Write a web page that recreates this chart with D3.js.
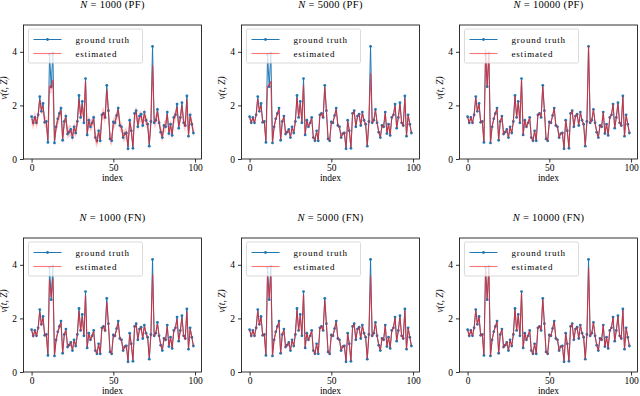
<!DOCTYPE html>
<html>
<head>
    <meta charset="utf-8">
    <title>Ground truth vs estimated</title>
    <style>
        body { margin: 0; background: white; }
        text { font-family: "Liberation Serif", "DejaVu Serif", serif; fill: black; }
    </style>
    <script src="https://d3js.org/d3.v7.min.js"></script>
</head>
<body>
<div id="chart"></div>
<script>
    // panel order: top row PF, bottom row FN
    var particles = ["1000", "5000", "10000", "1000", "5000", "10000"];
    var methods = ["PF", "PF", "PF", "FN", "FN", "FN"];
    var xTicks = [0, 50, 100];
    var yTicks = [0, 2, 4];

    var groundTruth = [
        1.58, 1.35, 1.55, 1.35, 1.65, 2.33, 1.78, 2.07, 1.37, 1.40,
        0.62, 3.90, 2.70, 3.95, 0.60, 1.20, 1.50, 1.70, 1.90, 0.70,
        1.40, 1.60, 0.93, 1.00, 1.10, 0.80, 1.20, 0.97, 1.40, 2.37,
        1.55, 2.15, 1.35, 3.00, 0.90, 1.45, 1.20, 1.35, 1.55, 0.80,
        0.68, 1.05, 0.68, 1.65, 1.70, 1.55, 2.75, 1.80, 0.75, 0.68,
        1.38, 1.35, 1.62, 1.90, 1.25, 1.20, 0.80, 0.95, 0.97, 0.38,
        1.45, 1.05, 0.40, 1.70, 1.80, 1.20, 1.60, 1.67, 1.25, 1.75,
        1.45, 1.30, 0.48, 1.40, 4.20, 1.35, 1.45, 1.85, 1.35, 1.00,
        0.80, 1.25, 1.20, 1.75, 0.95, 1.30, 0.88, 1.55, 1.65, 2.05,
        1.15, 1.55, 2.10, 1.35, 1.25, 2.35, 0.85, 1.65, 1.30, 0.97
    ];

    var estPF1000 = [
        1.50, 1.30, 1.58, 1.30, 1.62, 2.20, 1.85, 1.95, 1.42, 1.35,
        0.70, 2.70, 2.65, 2.95, 0.68, 1.15, 1.45, 1.62, 1.82, 0.75,
        1.35, 1.55, 0.95, 1.05, 1.05, 0.85, 1.15, 1.02, 1.32, 2.25,
        1.60, 2.05, 1.40, 2.90, 0.95, 1.40, 1.25, 1.30, 1.50, 0.78,
        0.62, 1.00, 0.72, 1.60, 1.72, 1.50, 2.60, 1.75, 0.80, 0.70,
        1.32, 1.40, 1.55, 1.85, 1.28, 1.15, 0.85, 0.90, 1.00, 0.45,
        1.40, 1.10, 0.45, 1.62, 1.75, 1.25, 1.55, 1.60, 1.30, 1.70,
        1.40, 1.32, 0.55, 1.35, 3.50, 1.40, 1.40, 1.78, 1.38, 1.05,
        0.82, 1.20, 1.25, 1.68, 0.98, 1.25, 0.92, 1.50, 1.60, 1.95,
        1.20, 1.50, 2.00, 1.40, 1.20, 2.25, 0.90, 1.60, 1.35, 1.00
    ];
    var estPF5000 = [
        1.55, 1.37, 1.52, 1.38, 1.63, 2.25, 1.80, 2.00, 1.40, 1.38,
        0.66, 2.70, 2.75, 2.90, 0.64, 1.18, 1.48, 1.68, 1.86, 0.72,
        1.38, 1.58, 0.95, 1.02, 1.08, 0.82, 1.18, 0.99, 1.38, 2.30,
        1.57, 2.10, 1.37, 2.75, 0.92, 1.43, 1.22, 1.33, 1.52, 0.82,
        0.70, 1.03, 0.70, 1.63, 1.68, 1.53, 2.70, 1.78, 0.77, 0.70,
        1.36, 1.37, 1.60, 1.87, 1.26, 1.18, 0.82, 0.94, 0.98, 0.40,
        1.43, 1.06, 0.42, 1.68, 1.78, 1.22, 1.58, 1.65, 1.27, 1.72,
        1.43, 1.31, 0.50, 1.40, 3.20, 1.37, 1.44, 1.82, 1.36, 1.02,
        0.82, 1.24, 1.21, 1.72, 0.97, 1.29, 0.90, 1.53, 1.63, 2.00,
        1.17, 1.53, 2.05, 1.36, 1.25, 2.28, 0.87, 1.63, 1.31, 0.98
    ];
    var estPF10000 = [
        1.57, 1.36, 1.54, 1.36, 1.64, 2.30, 1.79, 2.05, 1.38, 1.40,
        0.64, 4.10, 2.72, 4.00, 0.62, 1.20, 1.50, 1.70, 1.88, 0.71,
        1.40, 1.59, 0.94, 1.00, 1.09, 0.81, 1.19, 0.97, 1.40, 2.35,
        1.55, 2.13, 1.36, 2.95, 0.91, 1.45, 1.20, 1.35, 1.54, 0.80,
        0.69, 1.04, 0.69, 1.65, 1.70, 1.55, 2.72, 1.79, 0.76, 0.69,
        1.38, 1.36, 1.61, 1.89, 1.25, 1.20, 0.81, 0.95, 0.97, 0.39,
        1.45, 1.05, 0.41, 1.70, 1.79, 1.21, 1.60, 1.66, 1.26, 1.74,
        1.45, 1.30, 0.49, 1.42, 4.22, 1.36, 1.45, 1.84, 1.35, 1.01,
        0.81, 1.25, 1.20, 1.74, 0.96, 1.30, 0.89, 1.55, 1.64, 2.04,
        1.16, 1.55, 2.08, 1.35, 1.26, 2.33, 0.86, 1.64, 1.30, 0.97
    ];
    var estFN1000 = [
        1.55, 1.33, 1.53, 1.37, 1.62, 2.25, 1.75, 2.02, 1.38, 1.38,
        0.66, 3.45, 2.80, 3.50, 0.64, 1.18, 1.47, 1.67, 1.85, 0.73,
        1.37, 1.57, 0.95, 1.02, 1.08, 0.83, 1.17, 0.99, 1.37, 2.28,
        1.53, 2.08, 1.36, 2.85, 0.93, 1.42, 1.22, 1.33, 1.52, 0.82,
        0.70, 1.03, 0.70, 1.62, 1.68, 1.52, 2.62, 1.76, 0.78, 0.70,
        1.36, 1.35, 1.58, 1.85, 1.26, 1.18, 0.83, 0.94, 0.97, 0.42,
        1.42, 1.06, 0.44, 1.66, 1.76, 1.22, 1.57, 1.64, 1.27, 1.71,
        1.43, 1.31, 0.52, 1.39, 3.65, 1.36, 1.44, 1.80, 1.36, 1.02,
        0.83, 1.24, 1.21, 1.71, 0.97, 1.28, 0.90, 1.52, 1.62, 1.98,
        1.17, 1.52, 2.03, 1.36, 1.25, 2.27, 0.88, 1.62, 1.31, 0.98
    ];
    var estFN5000 = [
        1.56, 1.34, 1.54, 1.36, 1.63, 2.28, 1.77, 2.04, 1.37, 1.39,
        0.64, 3.60, 2.75, 3.65, 0.62, 1.19, 1.49, 1.68, 1.87, 0.71,
        1.39, 1.58, 0.94, 1.01, 1.09, 0.82, 1.18, 0.98, 1.39, 2.32,
        1.54, 2.12, 1.35, 2.90, 0.92, 1.44, 1.21, 1.34, 1.53, 0.81,
        0.69, 1.04, 0.69, 1.64, 1.69, 1.54, 2.68, 1.78, 0.77, 0.69,
        1.37, 1.35, 1.60, 1.88, 1.25, 1.19, 0.82, 0.95, 0.97, 0.40,
        1.44, 1.05, 0.42, 1.68, 1.78, 1.21, 1.59, 1.66, 1.26, 1.73,
        1.44, 1.30, 0.50, 1.40, 3.60, 1.35, 1.45, 1.83, 1.35, 1.01,
        0.82, 1.25, 1.20, 1.73, 0.96, 1.29, 0.89, 1.54, 1.64, 2.02,
        1.16, 1.54, 2.06, 1.35, 1.25, 2.30, 0.86, 1.64, 1.30, 0.97
    ];
    var estFN10000 = [
        1.57, 1.35, 1.55, 1.35, 1.64, 2.30, 1.78, 2.06, 1.37, 1.40,
        0.63, 3.80, 2.72, 3.85, 0.61, 1.20, 1.50, 1.69, 1.89, 0.70,
        1.40, 1.60, 0.93, 1.00, 1.10, 0.81, 1.20, 0.97, 1.40, 2.34,
        1.55, 2.14, 1.35, 2.95, 0.91, 1.45, 1.20, 1.35, 1.54, 0.80,
        0.68, 1.05, 0.68, 1.65, 1.70, 1.55, 2.72, 1.79, 0.76, 0.68,
        1.38, 1.35, 1.61, 1.89, 1.25, 1.20, 0.81, 0.95, 0.97, 0.39,
        1.45, 1.05, 0.41, 1.70, 1.79, 1.20, 1.60, 1.67, 1.25, 1.74,
        1.45, 1.30, 0.49, 1.40, 3.90, 1.35, 1.45, 1.84, 1.35, 1.00,
        0.80, 1.25, 1.20, 1.75, 0.95, 1.30, 0.88, 1.55, 1.65, 2.04,
        1.15, 1.55, 2.09, 1.35, 1.25, 2.33, 0.85, 1.65, 1.30, 0.97
    ];
    var estimates = [estPF1000, estPF5000, estPF10000, estFN1000, estFN5000, estFN10000];
    // half width of the shaded band around each estimate
    var spreads = [0.22, 0.07, 0.05, 0.09, 0.06, 0.05];

    var W = 640, H = 396;
    var panelW = 178, panelH = 134;
    var lefts = [23.5, 241.5, 459.5];
    var tops = [25, 238];

    var svg = d3.select("#chart").append("svg")
        .attr("width", W)
        .attr("height", H);

    var x = d3.scaleLinear().domain([-4.95, 103.95]).range([0, panelW]);
    var y = d3.scaleLinear().domain([0, 5]).range([panelH, 0]);

    var blue = "#1f77b4";
    var red = "#ff1a1a";

    for (var p = 0; p < 6; p++) {
        drawPanel(p);
    }

    function drawPanel(p) {
        var est = estimates[p];
        var s = spreads[p];
        var g = svg.append("g")
            .attr("transform", "translate(" + lefts[p % 3] + "," + tops[Math.floor(p / 3)] + ")");

        var truthPts = groundTruth.map(function (v, i) { return { i: i, v: v }; });
        var estPts = est.map(function (v, i) { return { i: i, v: v }; });

        // shaded band
        g.append("path")
            .datum(estPts)
            .attr("fill", red)
            .attr("fill-opacity", 0.22)
            .attr("d", d3.area()
                .x(function (d) { return x(d.i); })
                .y0(function (d) { return y(d.v - s); })
                .y1(function (d) { return y(d.v + s); }));

        // ground truth line + dots
        g.append("path")
            .datum(truthPts)
            .attr("fill", "none")
            .attr("stroke", blue)
            .attr("stroke-width", 1)
            .attr("d", d3.line()
                .x(function (d) { return x(d.i); })
                .y(function (d) { return y(d.v); }));

        g.selectAll(".dot")
            .data(truthPts)
            .enter().append("circle")
            .attr("cx", function (d) { return x(d.i); })
            .attr("cy", function (d) { return y(d.v); })
            .attr("r", 1.4)
            .attr("fill", blue);

        // estimate line
        g.append("path")
            .datum(estPts)
            .attr("fill", "none")
            .attr("stroke", red)
            .attr("stroke-opacity", 0.7)
            .attr("stroke-width", 1.1)
            .attr("d", d3.line()
                .x(function (d) { return x(d.i); })
                .y(function (d) { return y(d.v); }));

        // axes
        var xAxis = g.append("g")
            .attr("transform", "translate(0," + panelH + ")")
            .call(d3.axisBottom(x).tickValues(xTicks).tickFormat(d3.format("d")).tickSize(3.5).tickPadding(2));
        var yAxis = g.append("g")
            .call(d3.axisLeft(y).tickValues(yTicks).tickFormat(d3.format("d")).tickSize(3.5).tickPadding(3));
        [xAxis, yAxis].forEach(function (a) {
            a.select(".domain").remove();
            a.selectAll("line").attr("stroke", "black").attr("stroke-width", 0.8);
            a.selectAll("text").style("font-family", "'Liberation Serif', serif").style("font-size", "9.5px");
        });

        // frame
        g.append("rect")
            .attr("width", panelW)
            .attr("height", panelH)
            .attr("fill", "none")
            .attr("stroke", "black")
            .attr("stroke-width", 0.8);

        // legend
        var lg = g.append("g").attr("transform", "translate(5,4)");
        lg.append("rect")
            .attr("width", 114)
            .attr("height", 34)
            .attr("rx", 1.5)
            .attr("fill", "white")
            .attr("fill-opacity", 0.8)
            .attr("stroke", "#d0d0d0")
            .attr("stroke-width", 0.8);
        lg.append("line").attr("x1", 5).attr("x2", 33).attr("y1", 10.5).attr("y2", 10.5)
            .attr("stroke", blue).attr("stroke-width", 1);
        lg.append("circle").attr("cx", 19).attr("cy", 10.5).attr("r", 1.4).attr("fill", blue);
        lg.append("line").attr("x1", 5).attr("x2", 33).attr("y1", 24.5).attr("y2", 24.5)
            .attr("stroke", red).attr("stroke-opacity", 0.6).attr("stroke-width", 1.1);
        lg.append("text").attr("x", 47).attr("y", 13.5)
            .style("font-size", "9px").style("letter-spacing", "0.8px").text("ground truth");
        lg.append("text").attr("x", 47).attr("y", 27.5)
            .style("font-size", "9px").style("letter-spacing", "0.8px").text("estimated");

        // title
        var t = g.append("text")
            .attr("x", panelW / 2)
            .attr("y", -17)
            .attr("text-anchor", "middle")
            .style("font-size", "10.5px")
            .style("letter-spacing", "0.3px");
        t.append("tspan").style("font-style", "italic").text("N");
        t.append("tspan").text(" = " + particles[p] + " (" + methods[p] + ")");

        // axis labels
        g.append("text")
            .attr("x", panelW / 2)
            .attr("y", panelH + 22)
            .attr("text-anchor", "middle")
            .style("font-size", "9.5px")
            .text("index");
        g.append("text")
            .attr("transform", "translate(-17," + (panelH / 2 - 4) + ") rotate(-90)")
            .attr("text-anchor", "middle")
            .style("font-size", "9.5px")
            .style("font-style", "italic")
            .text("ν(t, Z)");
    }
</script>
</body>
</html>
